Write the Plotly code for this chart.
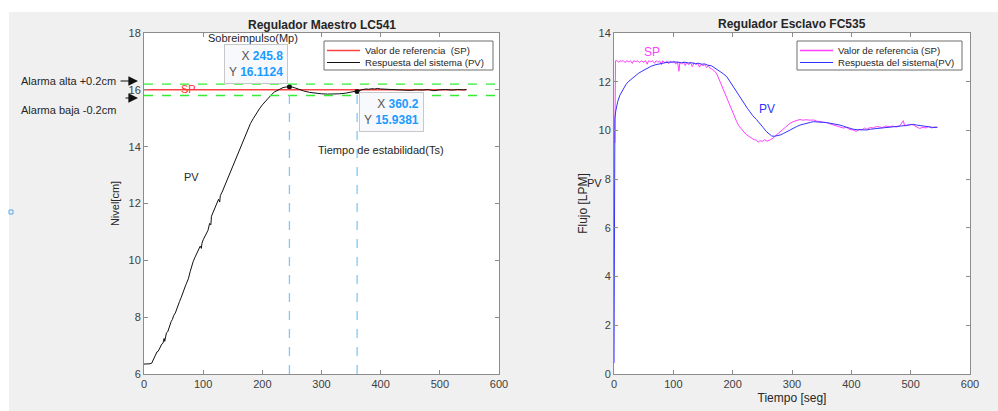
import plotly.graph_objects as go

W, H = 998, 411

# ---------------- data ----------------
lc_t = [0, 5, 10, 13, 16, 18, 20, 22, 24, 26, 28, 30, 32, 34, 35, 36, 38, 40, 42, 44, 46, 48,
        50, 53, 56, 58, 60, 63, 66, 68, 70, 72, 75, 78, 80, 83, 86, 89, 92, 95, 97, 98, 100,
        103, 106, 108, 111, 113, 114, 117, 120, 123, 126, 128, 129, 132, 135, 138, 141, 144,
        148, 152, 156, 160, 165, 170, 175, 180, 185, 190, 195, 200, 205, 210, 215, 220, 225,
        230, 235, 240, 245.8, 250, 255, 260, 265, 270, 280, 290, 300, 310, 320, 330, 340, 350,
        360.2, 365, 370, 375, 380, 385, 390, 395, 400, 410, 420, 430, 440, 450, 460, 470, 480,
        490, 500, 510, 520, 530, 540, 545]
lc_pv = [6.35, 6.35, 6.36, 6.38, 6.50, 6.62, 6.66, 6.78, 6.80, 6.90, 6.95, 7.05, 7.08, 7.25,
         7.15, 7.30, 7.45, 7.48, 7.62, 7.70, 7.85, 7.92, 8.05, 8.15, 8.35, 8.40, 8.55, 8.70,
         8.90, 8.95, 9.10, 9.20, 9.35, 9.60, 9.75, 9.95, 10.10, 10.25, 10.35, 10.50, 10.42,
         10.60, 10.72, 10.85, 10.95, 11.05, 11.30, 11.25, 11.55, 11.70, 11.85, 12.00, 12.15,
         12.05, 12.28, 12.40, 12.55, 12.70, 12.85, 13.00, 13.20, 13.40, 13.60, 13.85, 14.10,
         14.35, 14.60, 14.82, 15.00, 15.18, 15.33, 15.47, 15.60, 15.72, 15.82, 15.92, 15.98,
         16.04, 16.08, 16.10, 16.11, 16.10, 16.07, 16.03, 16.00, 15.96, 15.91, 15.88, 15.86,
         15.85, 15.85, 15.86, 15.88, 15.91, 15.94, 15.98, 16.01, 16.03, 16.02, 16.04, 16.03,
         16.05, 16.03, 16.02, 16.03, 16.00, 16.01, 15.98, 16.00, 15.99, 16.01, 15.97, 16.00,
         16.01, 15.99, 16.01, 16.00, 16.01]
lc_sp_t = [0, 545]
lc_sp = [16, 16]
alarm_levels = [16.2, 15.8]
tip_x = [245.8, 360.2]
tip_y = [16.1124, 15.9381]

fc_sp_t = [0, 1.5, 2.5, 5, 8, 10, 13, 16, 19, 21, 25, 28, 31, 33, 37, 40, 43, 46, 50, 53, 56,
           58, 62, 65, 68, 71, 74, 77, 80, 82, 86, 89, 92, 95, 98, 101, 104, 107, 109.5, 111,
           114, 117, 120, 123, 126, 129, 132, 135, 138, 141, 144, 147, 150, 153, 156, 159, 162,
           165, 168, 171, 174, 177, 180, 184, 188, 192, 195.5, 199, 203, 206.8, 210, 214, 218,
           222, 226, 232, 236, 240, 243, 246, 250, 254, 258, 263, 268, 272, 276, 280, 285, 290,
           296.6, 302, 307, 313.5, 318, 324, 330, 336, 342, 348, 353, 358.5, 364, 370, 375, 381,
           386, 392, 397, 403, 408, 413, 418, 422, 426, 432, 437, 442, 448, 453, 458, 464, 470,
           476, 482, 487.6, 490, 495, 500, 504.5, 510, 515, 521, 526, 530, 535, 540, 545]
fc_sp = [9.5, 9.5, 12.86, 12.86, 12.80, 12.86, 12.84, 12.86, 12.78, 12.86, 12.82, 12.86, 12.75,
         12.86, 12.83, 12.86, 12.78, 12.86, 12.80, 12.86, 12.72, 12.86, 12.82, 12.86, 12.76,
         12.86, 12.80, 12.85, 12.70, 12.86, 12.78, 12.85, 12.74, 12.84, 12.78, 12.85, 12.72,
         12.82, 12.43, 12.80, 12.72, 12.82, 12.66, 12.80, 12.70, 12.80, 12.62, 12.78, 12.70,
         12.76, 12.60, 12.72, 12.66, 12.70, 12.58, 12.66, 12.55, 12.52, 12.45, 12.40, 12.28,
         12.10, 11.95, 11.73, 11.45, 11.22, 10.97, 10.80, 10.55, 10.36, 10.20, 10.08, 9.95,
         9.85, 9.78, 9.68, 9.62, 9.60, 9.52, 9.58, 9.55, 9.62, 9.56, 9.61, 9.68, 9.78, 9.86,
         9.95, 10.06, 10.16, 10.29, 10.36, 10.40, 10.45, 10.42, 10.44, 10.42, 10.43, 10.38,
         10.36, 10.34, 10.32, 10.27, 10.22, 10.20, 10.15, 10.10, 10.12, 10.04, 10.02, 9.96,
         10.04, 10.02, 10.10, 10.05, 10.12, 10.10, 10.16, 10.15, 10.12, 10.18, 10.15, 10.18,
         10.14, 10.20, 10.40, 10.18, 10.22, 10.25, 10.22, 10.15, 10.08, 10.13, 10.10, 10.16,
         10.10, 10.14, 10.13]
fc_pv_t = [0, 0.8, 1.5, 3, 6.2, 10, 15.7, 20, 24, 30, 35, 41, 47, 52, 57.8, 63, 69, 74.7, 80,
           86, 91, 97, 103, 108, 114, 119.7, 125, 131, 137, 142, 148, 153, 158, 164.6, 168, 173,
           178, 184, 190, 195, 201, 205, 210, 215, 220, 225, 229, 234, 240, 246, 251, 257, 261,
           265.8, 270, 275, 280, 286, 291, 296.6, 302, 308, 313.5, 320, 326, 331, 336, 342, 348,
           353, 358.5, 364, 370, 375, 381, 387, 392, 397, 403, 410, 416, 421, 426, 432, 437, 442,
           448, 455, 462, 470, 476.5, 483, 490, 497, 504.5, 510, 515, 521, 527, 533, 539, 545]
fc_pv = [0.45, 4.8, 10.5, 10.8, 11.18, 11.45, 11.73, 11.88, 12.0, 12.12, 12.24, 12.34, 12.43,
         12.50, 12.59, 12.64, 12.69, 12.73, 12.76, 12.78, 12.80, 12.82, 12.81, 12.80, 12.78,
         12.80, 12.77, 12.78, 12.74, 12.76, 12.72, 12.73, 12.68, 12.65, 12.60, 12.51, 12.42,
         12.33, 12.21, 12.02, 11.80, 11.62, 11.45, 11.25, 11.07, 10.90, 10.77, 10.60, 10.45,
         10.29, 10.13, 9.95, 9.85, 9.77, 9.76, 9.79, 9.81, 9.88, 9.95, 10.02, 10.10, 10.16,
         10.22, 10.27, 10.31, 10.33, 10.36, 10.34, 10.33, 10.33, 10.32, 10.30, 10.27, 10.24,
         10.22, 10.17, 10.13, 10.08, 10.05, 10.03, 10.02, 10.03, 10.02, 10.05, 10.06, 10.08,
         10.09, 10.12, 10.13, 10.15, 10.15, 10.18, 10.20, 10.22, 10.25, 10.22, 10.20, 10.18,
         10.16, 10.15, 10.12, 10.13]

x_ticks = [0, 100, 200, 300, 400, 500, 600]
lc_y_ticks = [6, 8, 10, 12, 14, 16, 18]
fc_y_ticks = [0, 2, 4, 6, 8, 10, 12, 14]

lc_names = ["Valor de referencia  (SP)", "Respuesta del sistema (PV)"]
fc_names = ["Valor de referencia (SP)", "Respuesta del sistema(PV)"]
lc_colors = ["#ff4040", "#111111"]
fc_colors = ["#ff40ff", "#3333ff"]


# ---------------- helpers for pixel -> paper ----------------
def px(x):
    return x / W


def py(y):
    return 1 - y / H


FONT = "Liberation Sans, Arial, Helvetica, sans-serif"
AX = "#8c8c8c"
TXT = "#404040"

fig = go.Figure()

# Left plot traces
fig.add_trace(go.Scatter(x=lc_sp_t, y=lc_sp, mode="lines", name=lc_names[0],
                         line=dict(color=lc_colors[0], width=1.5), xaxis="x", yaxis="y",
                         showlegend=False))
fig.add_trace(go.Scatter(x=lc_t, y=lc_pv, mode="lines", name=lc_names[1],
                         line=dict(color=lc_colors[1], width=1), xaxis="x", yaxis="y",
                         showlegend=False))
fig.add_trace(go.Scatter(x=tip_x, y=tip_y, mode="markers", showlegend=False,
                         marker=dict(color="#111111", size=5), xaxis="x", yaxis="y"))

# Right plot traces
fig.add_trace(go.Scatter(x=fc_sp_t, y=fc_sp, mode="lines", name=fc_names[0],
                         line=dict(color=fc_colors[0], width=1), xaxis="x2", yaxis="y2",
                         showlegend=False))
fig.add_trace(go.Scatter(x=fc_pv_t, y=fc_pv, mode="lines", name=fc_names[1],
                         line=dict(color=fc_colors[1], width=1), xaxis="x2", yaxis="y2",
                         showlegend=False))

shapes = []
ann = []

# gray figure background
shapes.append(dict(type="rect", xref="paper", yref="paper", x0=px(9), x1=1, y0=0, y1=py(12),
                   fillcolor="#f0f0f0", line=dict(width=0), layer="below"))
# white plot areas
for (xa, xb) in [(144, 499), (614, 970)]:
    shapes.append(dict(type="rect", xref="paper", yref="paper", x0=px(xa), x1=px(xb),
                       y0=py(374), y1=py(33), fillcolor="white", line=dict(width=0),
                       layer="below"))
# tiny blue square artifact
shapes.append(dict(type="rect", xref="paper", yref="paper", x0=px(9), x1=px(13),
                   y0=py(214), y1=py(210), fillcolor="rgba(0,0,0,0)",
                   line=dict(color="#5aa9e6", width=1)))
# alarm lines
for lv in alarm_levels:
    shapes.append(dict(type="line", xref="x", yref="y", x0=0, x1=600, y0=lv, y1=lv,
                       line=dict(color="#33ee33", width=1.3, dash="dash")))
# datatip vertical guides
for tx, ty in zip(tip_x, tip_y):
    shapes.append(dict(type="line", xref="x", yref="y", x0=tx, x1=tx, y0=6, y1=ty - 0.08,
                       line=dict(color="#80c8f5", width=1.3, dash="dash")))


# MATLAB-style legend boxes
def legend_box(x0, x1, y0, y1, names, colors, widths):
    shapes.append(dict(type="rect", xref="paper", yref="paper", x0=px(x0), x1=px(x1),
                       y0=py(y1), y1=py(y0), fillcolor="white",
                       line=dict(color="#6f6f6f", width=1)))
    rows = [y0 + 9.5, y0 + 21.5]
    for name, col, lw, ry in zip(names, colors, widths, rows):
        shapes.append(dict(type="line", xref="paper", yref="paper", x0=px(x0 + 3),
                           x1=px(x0 + 36), y0=py(ry), y1=py(ry), line=dict(color=col, width=lw)))
        ann.append(dict(text=name, x=px(x0 + 39), y=py(ry), xref="paper", yref="paper",
                        showarrow=False, xanchor="left", yanchor="middle",
                        font=dict(size=9.6, color="#262626")))


legend_box(324, 493, 41, 70, lc_names, lc_colors, [1.5, 1])
legend_box(797, 962, 41, 70, fc_names, fc_colors, [1.5, 1])


def label(text, x, y, color="#262626", size=11, xanchor="center"):
    ann.append(dict(text=text, x=px(x), y=py(y), xref="paper", yref="paper", showarrow=False,
                    xanchor=xanchor, yanchor="middle", font=dict(size=size, color=color)))


label("<b>Regulador Maestro LC541</b>", 322, 25, size=12)
label("<b>Regulador Esclavo FC535</b>", 792, 24, size=12)
label("Sobreimpulso(Mp)", 253, 38)
label("SP", 188, 89, color="#ff3030")
label("Tiempo de estabilidad(Ts)", 381, 150)
label("PV", 191, 177)
label("Alarma alta +0.2cm", 19, 81, xanchor="left")
label("Alarma baja -0.2cm", 19, 110, xanchor="left")
label("SP", 652, 52, color="#ff40ff", size=12)
label("PV", 767, 109, color="#3333ff", size=12)
label("PV", 594, 183, size=11)

# arrows pointing at the alarm lines
for (y0, xs) in [(81, 119), (98, 124)]:
    ann.append(dict(text="", x=px(138), y=py(y0), xref="paper", yref="paper",
                    ax=xs - 138, ay=0, axref="pixel", ayref="pixel", showarrow=True,
                    arrowhead=2, arrowsize=1.6, arrowwidth=1.2, arrowcolor="#111111"))

# datatips
VC = "#1a9cff"
for (tx, ty, cx, cy) in [(tip_x[0], tip_y[0], 256, 64), (tip_x[1], tip_y[1], 391, 112)]:
    ann.append(dict(
        text=f"X <b><span style='color:{VC}'>{tx}</span></b><br>"
             f"Y <b><span style='color:{VC}'>{ty}</span></b>",
        x=px(cx), y=py(cy), xref="paper", yref="paper", showarrow=False, align="right",
        xanchor="center", yanchor="middle", font=dict(size=12, color="#555555"),
        bgcolor="#f8f9fc", bordercolor="#c8c8c8", borderwidth=1, borderpad=4))

axis_common = dict(showline=True, linecolor=AX, linewidth=1, mirror="ticks", ticks="inside",
                   ticklen=4, tickcolor=AX, showgrid=False, zeroline=False, automargin=False,
                   tickfont=dict(size=11, color=TXT))

fig.update_layout(
    width=W, height=H, margin=dict(l=0, r=0, t=0, b=0, autoexpand=False),
    paper_bgcolor="white", plot_bgcolor="rgba(0,0,0,0)", showlegend=False,
    font=dict(family=FONT, color="#262626"),
    xaxis=dict(domain=[px(144), px(499)], range=[0, 600], tickvals=x_ticks, anchor="y",
               **axis_common),
    yaxis=dict(domain=[py(374), py(33)], range=[6, 18], tickvals=lc_y_ticks, anchor="x",
               title=dict(text="Nivel[cm]", standoff=6, font=dict(size=11, color="#262626")),
               **axis_common),
    xaxis2=dict(domain=[px(614), px(970)], range=[0, 600], tickvals=x_ticks, anchor="y2",
                title=dict(text="Tiempo [seg]", standoff=4, font=dict(size=12, color="#262626")),
                **axis_common),
    yaxis2=dict(domain=[py(374), py(33)], range=[0, 14], tickvals=fc_y_ticks, anchor="x2",
                title=dict(text="Flujo [LPM]", standoff=8, font=dict(size=12, color="#262626")),
                **axis_common),
    shapes=shapes, annotations=ann,
)

fig.write_html("out.html", config={"displayModeBar": False},
               post_script="document.body.style.margin='0';document.body.style.overflow='hidden';")
